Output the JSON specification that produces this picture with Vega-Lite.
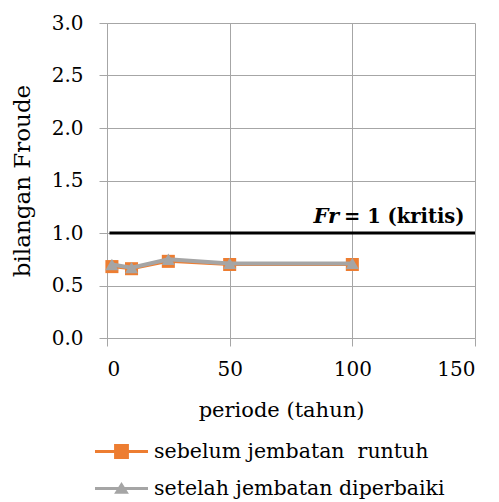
{
  "$schema": "https://vega.github.io/schema/vega-lite/v6.json",
  "width": 368,
  "height": 315,
  "autosize": {"type": "none"},
  "padding": {"left": 107, "top": 23, "right": 24, "bottom": 164},
  "background": "white",
  "config": {
    "view": {"stroke": null},
    "font": "DejaVu Serif",
    "axis": {
      "labelFont": "DejaVu Serif",
      "labelFontSize": 20,
      "labelColor": "black",
      "titleFont": "DejaVu Serif",
      "titleFontSize": 21,
      "titleFontWeight": "normal",
      "titleColor": "black",
      "gridColor": "#a6a6a6",
      "gridWidth": 1,
      "domainColor": "#a6a6a6",
      "tickColor": "#a6a6a6",
      "tickSize": 8
    },
    "legend": {
      "labelFont": "DejaVu Serif",
      "labelFontSize": 20.5,
      "labelColor": "black",
      "padding": 0
    }
  },
  "datasets": {
    "froude": [
      {"periode": 2, "froude": 0.68, "series": "sebelum jembatan\u00a0 runtuh"},
      {"periode": 10, "froude": 0.66, "series": "sebelum jembatan\u00a0 runtuh"},
      {"periode": 25, "froude": 0.73, "series": "sebelum jembatan\u00a0 runtuh"},
      {"periode": 50, "froude": 0.70, "series": "sebelum jembatan\u00a0 runtuh"},
      {"periode": 100, "froude": 0.70, "series": "sebelum jembatan\u00a0 runtuh"},
      {"periode": 2, "froude": 0.70, "series": "setelah jembatan diperbaiki"},
      {"periode": 10, "froude": 0.67, "series": "setelah jembatan diperbaiki"},
      {"periode": 25, "froude": 0.75, "series": "setelah jembatan diperbaiki"},
      {"periode": 50, "froude": 0.71, "series": "setelah jembatan diperbaiki"},
      {"periode": 100, "froude": 0.71, "series": "setelah jembatan diperbaiki"}
    ],
    "kritis": [
      {"periode": 150, "awal": 1, "froude": 1, "fr": "Fr", "rest": "= 1 (kritis)"}
    ]
  },
  "data": {"name": "froude"},
  "encoding": {
    "x": {
      "field": "periode",
      "type": "quantitative",
      "scale": {"domain": [0, 150], "nice": false},
      "axis": {
        "values": [0, 50, 100, 150],
        "title": "periode (tahun)",
        "labelPadding": 13,
        "titlePadding": 20,
        "titleX": 174
      }
    },
    "y": {
      "field": "froude",
      "type": "quantitative",
      "scale": {"domain": [0, 3], "nice": false},
      "axis": {
        "values": [0, 0.5, 1, 1.5, 2, 2.5, 3],
        "format": ".1f",
        "title": "bilangan Froude",
        "titleFontSize": 23,
        "labelPadding": 16,
        "titlePadding": 17
      }
    }
  },
  "layer": [
    {
      "data": {"name": "kritis"},
      "mark": {"type": "rule", "color": "black", "strokeWidth": 3},
      "encoding": {
        "x": {"field": "awal", "type": "quantitative"},
        "x2": {"field": "periode"},
        "y": {"field": "froude", "type": "quantitative"}
      }
    },
    {
      "transform": [{"filter": "datum.series === 'sebelum jembatan\u00a0 runtuh'"}],
      "mark": {"type": "line", "color": "#ED7D31", "strokeWidth": 3}
    },
    {
      "transform": [{"filter": "datum.series === 'sebelum jembatan\u00a0 runtuh'"}],
      "mark": {"type": "point", "shape": "square", "filled": true, "color": "#ED7D31", "size": 170, "opacity": 1}
    },
    {
      "transform": [{"filter": "datum.series === 'setelah jembatan diperbaiki'"}],
      "mark": {"type": "line", "color": "#A5A5A5", "strokeWidth": 4}
    },
    {
      "transform": [{"filter": "datum.series === 'setelah jembatan diperbaiki'"}],
      "mark": {"type": "point", "shape": "triangle-up", "filled": true, "color": "#A5A5A5", "size": 170, "opacity": 1}
    },
    {
      "mark": {"type": "point", "filled": true, "opacity": 0},
      "encoding": {
        "color": {
          "field": "series",
          "type": "nominal",
          "scale": {
            "domain": ["sebelum jembatan\u00a0 runtuh", "setelah jembatan diperbaiki"],
            "range": ["#ED7D31", "#A5A5A5"]
          },
          "legend": {
            "title": null,
            "orient": "none",
            "legendX": -12,
            "legendY": 402,
            "symbolSize": 2809,
            "symbolStrokeWidth": 0,
            "symbolOpacity": 1,
            "labelOffset": 6,
            "labelLimit": 400,
            "rowPadding": -1
          }
        },
        "shape": {
          "field": "series",
          "type": "nominal",
          "scale": {
            "domain": ["sebelum jembatan\u00a0 runtuh", "setelah jembatan diperbaiki"],
            "range": [
              "M-1,-0.057H1V0.057H-1Z M-0.28,-0.28H0.28V0.28H-0.28Z",
              "M-1,-0.057H1V0.057H-1Z M0,-0.25L0.28,0.2L-0.28,0.2Z"
            ]
          },
          "legend": {
            "title": null,
            "orient": "none",
            "legendX": -12,
            "legendY": 402,
            "symbolSize": 2809,
            "symbolStrokeWidth": 0,
            "symbolOpacity": 1,
            "labelOffset": 6,
            "labelLimit": 400,
            "rowPadding": -1
          }
        }
      }
    },
    {
      "data": {"name": "kritis"},
      "mark": {"type": "text", "align": "left", "baseline": "alphabetic", "dx": -131, "dy": -10, "font": "DejaVu Serif", "fontSize": 19.5, "fontWeight": "bold", "color": "black"},
      "encoding": {"text": {"field": "rest"}}
    },
    {
      "data": {"name": "kritis"},
      "mark": {"type": "text", "align": "right", "baseline": "alphabetic", "dx": -136, "dy": -10, "font": "DejaVu Serif", "fontSize": 21, "fontWeight": "bold", "fontStyle": "italic", "color": "black"},
      "encoding": {"text": {"field": "fr"}}
    }
  ]
}
